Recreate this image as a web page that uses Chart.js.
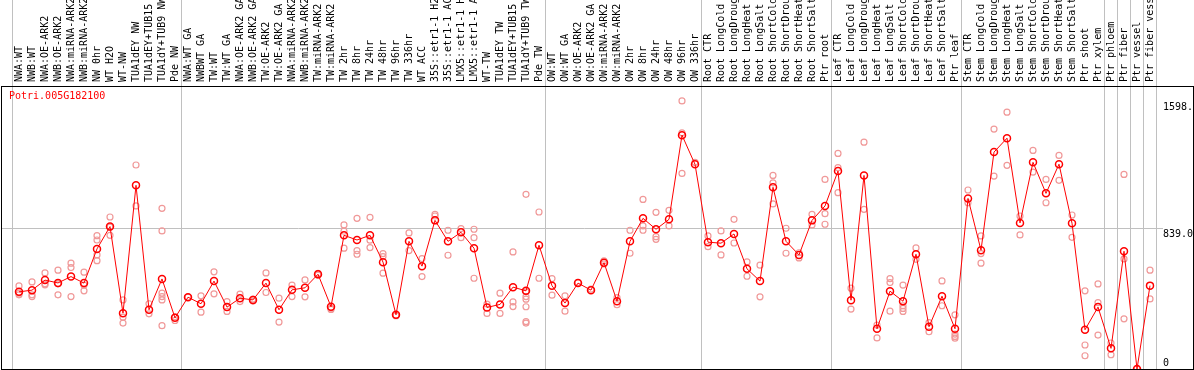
<!DOCTYPE html>
<html>
<head>
<meta charset="utf-8">
<script src="https://cdn.jsdelivr.net/npm/chart.js@4.4.1/dist/chart.umd.min.js"></script>
<style>
  html, body { margin: 0; padding: 0; background: #fff; }
  canvas { display: block; }
</style>
</head>
<body>
<canvas id="exprChart" width="1194" height="370"></canvas>
<script>
const geneId = "Potri.005G182100";

const categories = [
  "NWA:WT", "NWB:WT", "NWA:OE-ARK2", "NWB:OE-ARK2", "NWA:miRNA-ARK2", "NWB:miRNA-ARK2",
  "NW 0hr", "WT H2O", "WT-NW", "TUA1dEY NW", "TUA1dEY+TUB15", "TUA1dY+TUB9 NW", "Pde NW",
  "NWA:WT GA", "NWBWT GA", "TW:WT", "TW:WT GA", "NWA:OE-ARK2 GA", "NWB:OE-ARK2 GA",
  "TW:OE-ARK2", "TW:OE-ARK2 GA", "NWA:miRNA-ARK2", "NWB:miRNA-ARK2", "TW:miRNA-ARK2",
  "TW:miRNA-ARK2", "TW 2hr", "TW 8hr", "TW 24hr", "TW 48hr", "TW 96hr", "TW 336hr",
  "WT ACC", "35S::etr1-1 H2", "35S::etr1-1 AC", "LMX5::etr1-1 H", "LMX5::etr1-1 A",
  "WT-TW", "TUA1dEY TW", "TUA1dEY+TUB15", "TUA1dY+TUB9 TW", "Pde TW",
  "OW:WT", "OW:WT GA", "OW:OE-ARK2", "OW:OE-ARK2 GA", "OW:miRNA-ARK2", "OW:miRNA-ARK2",
  "OW 2hr", "OW 8hr", "OW 24hr", "OW 48hr", "OW 96hr", "OW 336hr",
  "Root CTR", "Root LongCold", "Root LongDroug", "Root LongHeat", "Root LongSalt",
  "Root ShortCold", "Root ShortDrou", "Root ShortHeat", "Root ShortSalt", "Ptr root",
  "Leaf CTR", "Leaf LongCold", "Leaf LongDroug", "Leaf LongHeat", "Leaf LongSalt",
  "Leaf ShortCold", "Leaf ShortDrou", "Leaf ShortHeat", "Leaf ShortSalt", "Ptr leaf",
  "Stem CTR", "Stem LongCold", "Stem LongDroug", "Stem LongHeat", "Stem LongSalt",
  "Stem ShortCold", "Stem ShortDrou", "Stem ShortHeat", "Stem ShortSalt", "Ptr shoot",
  "Ptr xylem", "Ptr phloem", "Ptr fiber", "Ptr vessel", "Ptr fiber vess"
];

// index of the first category of each group (a grey separator is drawn before it)
const groupStarts = [0, 13, 41, 53, 63, 73, 84, 85, 86, 87];

const meanValues = [
  460, 470, 530, 513, 551, 512, 716, 849, 333, 1095, 353, 537, 305,
  428, 389, 524, 369, 422, 412, 512, 353, 472, 484, 565, 371, 797, 769, 797, 637, 323, 761,
  613, 886, 761, 815, 720, 367, 385, 488, 466, 738,
  496, 393, 512, 470, 634, 404, 761, 898, 833, 892, 1394, 1220,
  756, 750, 805, 597, 524, 1083, 761, 680, 886, 972,
  1180, 410, 1154, 240, 464, 404, 684, 252, 434, 240,
  1017, 708, 1293, 1376, 871, 1232, 1047, 1221, 869, 234,
  369, 123, 702, 0, 497
];

const replicateValues = [
  [495, 452, 442], [519, 442, 432], [573, 508, 502], [589, 508, 442], [631, 605, 432],
  [577, 500, 466], [795, 769, 680, 646], [906, 845, 797], [412, 309, 274], [1216, 972],
  [389, 329], [958, 823, 452, 432, 412, 258], [311, 289],
  [428], [436, 339], [579, 448], [402, 343], [446, 402], [417, 405], [573, 456], [422, 280],
  [500, 432], [531, 430], [570, 560], [362, 355], [859, 821, 720], [898, 706, 684],
  [904, 768, 724], [688, 670, 571], [319, 318], [811, 706],
  [658, 551], [922, 912], [827, 678], [837, 783], [833, 783, 541], [387, 331], [452, 331],
  [698, 400, 372], [1041, 460, 432, 416, 371, 283, 274], [936, 541],
  [539, 440], [436, 345], [515], [476], [645, 626], [426, 383], [827, 690],
  [1011, 853, 827], [934, 789, 773], [946, 853], [1598, 1408, 1166], [1232],
  [793, 729], [823, 680], [892, 751], [638, 553], [619, 430], [1154, 1110, 984],
  [839, 690], [693, 662], [922, 859], [1130, 926, 863],
  [1285, 1200, 1051], [482, 357], [1352, 952], [262, 185], [539, 515, 345],
  [500, 377, 361, 343], [722, 654], [277, 222], [525, 377], [323, 208, 194, 184],
  [1067, 991], [793, 688, 631], [1430, 1150], [1531, 1214], [912, 799], [1303, 1174],
  [1130, 991], [1273, 1125], [918, 785], [466, 143, 79],
  [507, 396, 202], [155, 85], [1160, 656, 299], [0, 0], [589, 418]
];

const yTicks = [0, 839, 1598];
const yTickLabels = ["0", "839.0", "1598."];
const yMax = 1687; // headroom above the top tick, where the gene id sits

const MONO = "'DejaVu Sans Mono', 'Liberation Mono', monospace";
const GRID = "#c0c0c0";
const NONE = "rgba(0,0,0,0)";

// replicate points go on a hidden linear axis so repeated labels keep their own slot
const replicatePoints = [];
replicateValues.forEach((reps, i) => {
  reps.forEach(v => replicatePoints.push({ x: i, y: v }));
});

const midGridColor = ctx => (ctx.tick && ctx.tick.value === yTicks[1]) ? GRID : NONE;
const setYTicks = s => { s.ticks = yTicks.map(v => ({ value: v })); };

const framePlugin = {
  id: "frame",
  afterDraw(chart) {
    const ctx = chart.ctx;
    ctx.save();
    ctx.strokeStyle = "#000";
    ctx.lineWidth = 1;
    ctx.strokeRect(1.5, 86.5, 1192, 283);
    ctx.restore();
  }
};

new Chart(document.getElementById("exprChart"), {
  type: "line",
  data: {
    labels: categories,
    datasets: [
      {
        label: "mean",
        data: meanValues,
        xAxisID: "x",
        yAxisID: "y",
        borderColor: "#ff0000",
        borderWidth: 1,
        tension: 0,
        pointRadius: 3.5,
        pointBorderWidth: 1.5,
        pointBorderColor: "#ff0000",
        pointBackgroundColor: NONE,
        order: 1
      },
      {
        type: "scatter",
        label: "replicates",
        data: replicatePoints,
        xAxisID: "x2",
        yAxisID: "y",
        showLine: false,
        pointRadius: 3,
        pointBorderWidth: 1.2,
        pointBorderColor: "#f09999",
        pointBackgroundColor: NONE,
        order: 2
      }
    ]
  },
  options: {
    responsive: false,
    devicePixelRatio: 1,
    animation: false,
    layout: { autoPadding: false, padding: { left: 9, right: 0, top: 0, bottom: 1 } },
    plugins: {
      legend: { display: false },
      tooltip: { enabled: false },
      title: {
        display: true,
        text: geneId,
        align: "start",
        color: "#ff0000",
        weight: -10,
        font: { family: MONO, size: 10, weight: "normal", lineHeight: 1 },
        // negative bottom padding: the id overlays the plot instead of taking room
        padding: { top: 5, bottom: -15 }
      }
    },
    scales: {
      x: {
        type: "category",
        position: "top",
        offset: true,
        grid: {
          offset: true,
          drawOnChartArea: true,
          drawTicks: true,
          tickLength: 86,
          lineWidth: 1,
          color: ctx => (ctx.index === undefined || groupStarts.includes(ctx.index)) ? GRID : NONE
        },
        border: { display: false },
        ticks: {
          autoSkip: false,
          minRotation: 90,
          maxRotation: 90,
          padding: -82,
          labelOffset: 12,
          color: "#000",
          font: { family: MONO, size: 10 }
        },
        afterFit: s => { s.height = 86; }
      },
      x2: {
        type: "linear",
        display: false,
        min: -0.5,
        max: categories.length - 0.5
      },
      yl: {
        type: "linear",
        position: "left",
        display: true,
        min: yTicks[0],
        max: yMax,
        afterBuildTicks: setYTicks,
        grid: { drawOnChartArea: false, drawTicks: true, tickLength: 11.5, color: midGridColor },
        border: { display: false },
        ticks: { display: false },
        afterFit: s => { s.width = 3.5; s.paddingTop = 0; s.paddingBottom = 0; }
      },
      y: {
        type: "linear",
        position: "right",
        min: yTicks[0],
        max: yMax,
        afterBuildTicks: setYTicks,
        grid: { drawTicks: true, tickLength: 6.5, color: midGridColor },
        border: { display: false },
        ticks: {
          padding: 0,
          color: "#000",
          font: { family: MONO, size: 10 },
          callback: (value) => {
            const i = yTicks.indexOf(value);
            const text = i >= 0 ? yTickLabels[i] : "";
            return value === 0 ? [text, ""] : ["", text];
          }
        },
        afterFit: s => { s.width = 37.5; s.paddingTop = 0; s.paddingBottom = 0; }
      }
    }
  },
  plugins: [framePlugin]
});
</script>
</body>
</html>
